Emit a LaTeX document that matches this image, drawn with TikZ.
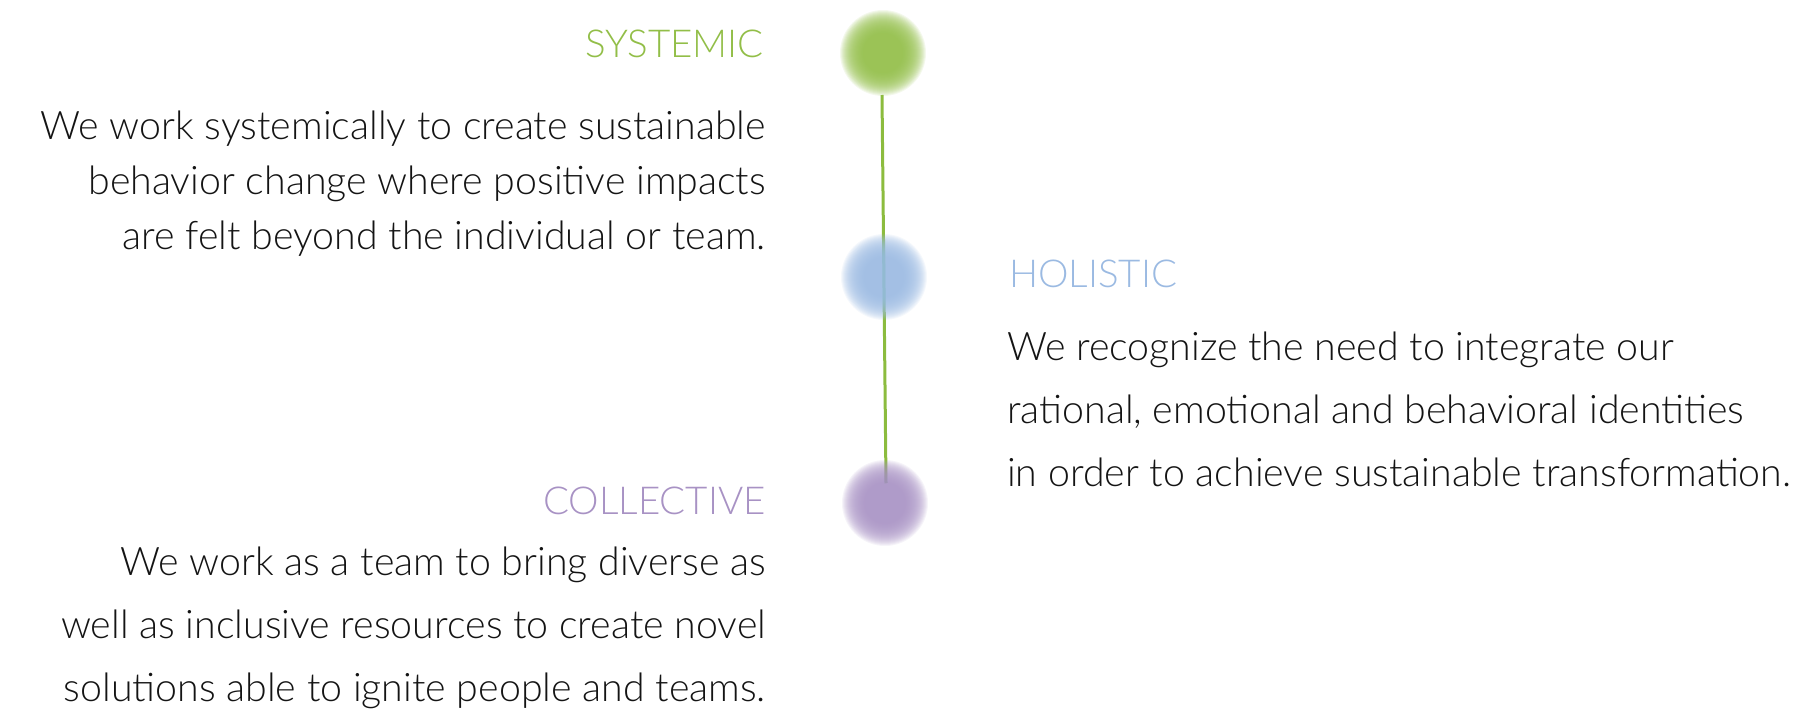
\documentclass[tikz,border=0pt]{standalone}
\usepackage{fontspec}
\setmainfont{Lato}[UprightFont=* Light]
\definecolor{cgreen}{RGB}{146,190,72}
\definecolor{cblue}{RGB}{155,186,226}
\definecolor{cpurple}{RGB}{168,146,196}
\definecolor{cline}{RGB}{140,188,62}
\definecolor{ctext}{RGB}{20,20,20}
\tikzset{
  bodytext/.style={inner sep=0pt, text=ctext, font=\fontsize{39.3bp}{44bp}\selectfont},
  titletext/.style={inner sep=0pt, font=\fontsize{38.5bp}{44bp}\selectfont},
  linkline/.style={draw=cline, line width=3bp},
  blurlayer/.style={fill=#1, opacity=0.1},
}
\newcommand{\softdot}[2]{%
  \foreach \rr in {20,...,43} {\fill[blurlayer=#2] (#1) circle (\rr bp);}%
}
\begin{document}
\begin{tikzpicture}[x=1bp,y=-1bp]
\useasboundingbox (0,0) rectangle (1802,712);
% dot centres
\coordinate (gdot) at (883,53);
\coordinate (bdot) at (884,277);
\coordinate (pdot) at (885,503);
\coordinate (ltop) at (882,95);
\coordinate (lbot) at (886,483);
\draw[linkline] (ltop) -- (lbot);
\softdot{gdot}{cgreen}
\softdot{bdot}{cblue}
\softdot{pdot}{cpurple}
% systemic
\node[titletext, text=cgreen, anchor=base east] (st) at (764,58) {SYSTEMIC};
\node[bodytext, anchor=base east] (s1) at (766,140) {We work systemically to create sustainable};
\node[bodytext, anchor=base east] (s2) at (766,194.6) {behavior change where positive impacts};
\node[bodytext, anchor=base east] (s3) at (766,249) {are felt beyond the individual or team.};
% holistic
\node[titletext, text=cblue, anchor=base west] (ht) at (1009,287) {HOLISTIC};
\node[bodytext, anchor=base west] (h1) at (1007,360) {We recognize the need to integrate our};
\node[bodytext, anchor=base west] (h2) at (1007,423) {rational, emotional and behavioral identities};
\node[bodytext, anchor=base west] (h3) at (1007,486) {in order to achieve sustainable transformation.};
% collective
\node[titletext, text=cpurple, anchor=base east] (ct) at (766,514) {COLLECTIVE};
\node[bodytext, anchor=base east] (c1) at (766,575) {We work as a team to bring diverse as};
\node[bodytext, anchor=base east] (c2) at (766,638) {well as inclusive resources to create novel};
\node[bodytext, anchor=base east] (c3) at (766,701) {solutions able to ignite people and teams.};
\end{tikzpicture}
\end{document}
